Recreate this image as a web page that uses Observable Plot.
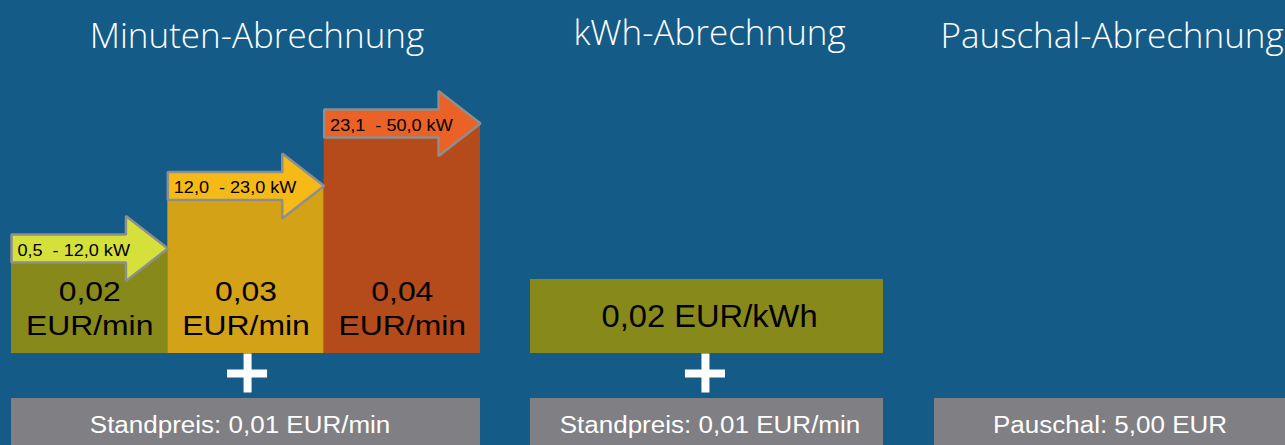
<!DOCTYPE html>
<html><head><meta charset="utf-8">
<script src="https://cdn.jsdelivr.net/npm/d3@7"></script>
<script src="https://cdn.jsdelivr.net/npm/@observablehq/plot@0.6"></script>
<style>
html,body{margin:0;padding:0;background:#145b87;}
#chart{width:1285px;height:445px;overflow:hidden;}
</style></head><body><div id="chart"></div>
<script>
// ---- data ----
const panels = ["Minuten-Abrechnung", "kWh-Abrechnung", "Pauschal-Abrechnung"];
const tierRanges = ["0,5  - 12,0 kW", "12,0  - 23,0 kW", "23,1  - 50,0 kW"];
const tierPrices = [0.02, 0.03, 0.04];
const tierPriceLabels = ["0,02", "0,03", "0,04"];
const tierUnit = "EUR/min";
const kwhPrice = 0.02;
const kwhLabel = "0,02 EUR/kWh";
const baseFees = ["Standpreis: 0,01 EUR/min", "Standpreis: 0,01 EUR/min", "Pauschal: 5,00 EUR"];
const plusPanels = [0, 1];

// ---- styles ----
const bg = "#145b87";
const barColors = ["#878a1a", "#d4a217", "#b54b1a"];
const arrowColors = ["#d6e03a", "#f6ba18", "#eb6226"];
const kwhColor = "#878a1a";
const feeColor = "#808084";
const outline = "#8e8e8e";

// ---- layout (x in tier widths, y in EUR) ----
const X = [-0.0704, 8.1494];
const Y = [-0.01152, 0.05968];
const barBase = 0.0032;
const panelSpan = [[0, 3], [3.32, 5.578], [5.904, 8.3]];
const titleX = [1.57, 4.465, 7.04];
const titleY = [0.05216, 0.05264, 0.05216];
const feeX = [1.462, 4.468, 7.027];
const feeTop = -0.004, feeTextY = -0.00955;
const plusX = [1.51, 4.439];
const kwhTop = 0.01504, kwhTextY = 0.00752;
const headLen = 0.268, shaftH = 0.00224, headH = 0.0052;

const tiers = tierPrices.map((p, i) => ({i, price: p, range: tierRanges[i], label: tierPriceLabels[i]}));
const arrowPts = t => {
  const a = t.i, b = t.i + 1, c = t.price;
  return [
    [a, c + shaftH], [b - headLen, c + shaftH], [b - headLen, c + headH], [b, c],
    [b - headLen, c - headH], [b - headLen, c - shaftH], [a, c - shaftH]
  ];
};
const feeRows = baseFees.map((f, i) => ({i, f}));
const sans = "Liberation Sans, Arial, sans-serif";

const chart = Plot.plot({
  width: 1285, height: 445,
  margin: 0,
  style: {background: bg, overflow: "hidden"},
  x: {domain: X, axis: null},
  y: {domain: Y, axis: null},
  color: {type: "identity"},
  marks: [
    Plot.rect(feeRows, {x1: d => panelSpan[d.i][0], x2: d => panelSpan[d.i][1], y1: Y[0], y2: feeTop, fill: feeColor}),
    Plot.rect(tiers, {x1: d => d.i, x2: d => d.i + 1, y1: barBase, y2: "price", fill: d => barColors[d.i]}),
    Plot.rect([kwhPrice], {x1: panelSpan[1][0], x2: panelSpan[1][1], y1: barBase, y2: kwhTop, fill: kwhColor}),
    ...tiers.map(t => Plot.line(arrowPts(t), {
      x: d => d[0], y: d => d[1], curve: "linear-closed",
      fill: arrowColors[t.i], stroke: outline, strokeWidth: 2.5, strokeLinejoin: "miter"
    })),
    Plot.ruleY(plusPanels, {y: 0, x1: i => plusX[i] - 0.128, x2: i => plusX[i] + 0.128, stroke: "white", strokeWidth: 8}),
    Plot.ruleX(plusPanels, {x: i => plusX[i], y1: -0.00312, y2: 0.00312, stroke: "white", strokeWidth: 8}),
    Plot.text(panels, {x: (d, i) => titleX[i], y: (d, i) => titleY[i], text: d => d, fill: "white",
      fontSize: 35, fontFamily: "Open Sans, sans-serif", fontWeight: 300, lineAnchor: "bottom"}),
    Plot.text(tiers, {x: d => d.i + 0.038, y: d => d.price - 0.00112, text: "range", textAnchor: "start",
      fill: "black", fontSize: 16, fontFamily: sans, lineAnchor: "bottom"}),
    Plot.text(tiers, {x: d => d.i + 0.5, y: 0.01168, text: "label", fill: "black", fontSize: 27, fontFamily: sans, lineAnchor: "bottom"}),
    Plot.text(tiers, {x: d => d.i + 0.5, y: 0.00624, text: () => tierUnit, fill: "black", fontSize: 27, fontFamily: sans, lineAnchor: "bottom"}),
    Plot.text([kwhLabel], {x: 4.465, y: kwhTextY, text: d => d, fill: "black", fontSize: 31, fontFamily: sans, lineAnchor: "bottom"}),
    Plot.text(feeRows, {x: d => feeX[d.i], y: feeTextY, text: "f", fill: "white", fontSize: 23, fontFamily: sans, lineAnchor: "bottom"})
  ]
});
document.getElementById("chart").appendChild(chart);

// horizontal stretch of the Arial-like labels, as in the reference
const stretch = {"16": 1.13, "27": 1.18, "31": 1.054, "23": 1.13};
chart.querySelectorAll("g[font-size]").forEach(g => {
  const f = stretch[g.getAttribute("font-size")];
  if (!f) return;
  g.querySelectorAll("text").forEach(t => {
    const w = t.getComputedTextLength();
    t.setAttribute("textLength", (w * f).toFixed(1));
    t.setAttribute("lengthAdjust", "spacingAndGlyphs");
  });
});
</script></body></html>
